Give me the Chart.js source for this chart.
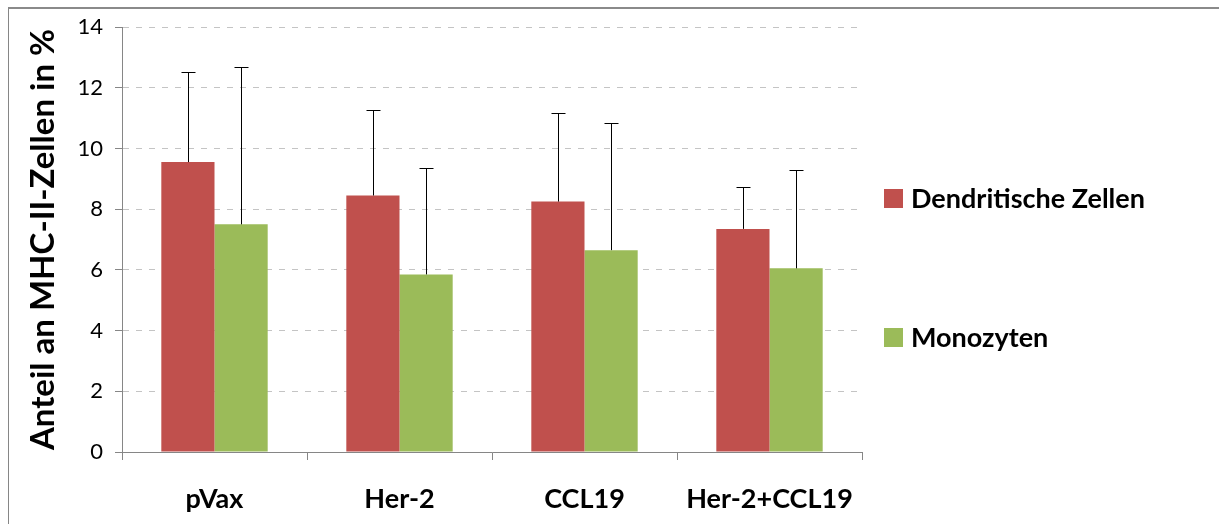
<!DOCTYPE html>
<html lang="de">
<head>
    <meta charset="UTF-8">
    <title>Anteil an MHC-II-Zellen</title>
    <style>
        html, body { margin: 0; padding: 0; background: #fff; overflow: hidden; }
        #frame {
            position: absolute; left: 8px; top: 7px;
            width: 2000px; height: 2000px;
            border-left: 1px solid #868686; border-top: 2px solid #8a8a8a;
        }
        canvas { position: absolute; left: 0; top: 0; }
    </style>
</head>
<body>
    <div id="frame"></div>
    <canvas id="chart" width="1219" height="524"></canvas>

    <script src="https://cdn.jsdelivr.net/npm/chart.js"></script>
    <script>
        // data
        const categories = ['pVax', 'Her-2', 'CCL19', 'Her-2+CCL19'];
        const dendritic = [9.55, 8.45, 8.25, 7.35];
        const monocytes = [7.5, 5.85, 6.65, 6.05];
        const dendriticErr = [2.97, 2.8, 2.92, 1.39];
        const monocytesErr = [5.17, 3.5, 4.2, 3.23];
        const yTicks = [0, 2, 4, 6, 8, 10, 12, 14];

        const RED = '#C0504D';
        const GREEN = '#9BBB59';
        const AXIS = '#868686';
        const FONT = 'Lato, "Open Sans", sans-serif';

        // upper error bars with caps
        const errorBars = {
            id: 'errorBars',
            afterDatasetsDraw(chart) {
                const ctx = chart.ctx;
                const yScale = chart.scales.y;
                ctx.save();
                ctx.strokeStyle = '#000';
                ctx.lineWidth = 1;
                chart.data.datasets.forEach((ds, di) => {
                    const meta = chart.getDatasetMeta(di);
                    meta.data.forEach((bar, i) => {
                        const x = Math.round(bar.x) + 0.5;
                        const top = Math.round(yScale.getPixelForValue(ds.data[i] + ds.errors[i])) + 0.5;
                        ctx.beginPath();
                        ctx.moveTo(x, bar.y);
                        ctx.lineTo(x, top);
                        ctx.moveTo(x - 7, top);
                        ctx.lineTo(x + 7, top);
                        ctx.stroke();
                    });
                });
                ctx.restore();
            }
        };

        // legend on the right, spaced like the original
        const sideLegend = {
            id: 'sideLegend',
            afterDraw(chart) {
                const ctx = chart.ctx;
                const rows = [189, 328];
                ctx.save();
                ctx.font = 'bold 27px ' + FONT;
                ctx.textBaseline = 'alphabetic';
                chart.data.datasets.forEach((ds, i) => {
                    ctx.fillStyle = ds.backgroundColor;
                    ctx.fillRect(884, rows[i], 19, 19);
                    ctx.fillStyle = '#000';
                    ctx.fillText(ds.label, 911, rows[i] + 19);
                });
                ctx.restore();
            }
        };

        new Chart(document.getElementById('chart'), {
            type: 'bar',
            data: {
                labels: categories,
                datasets: [
                    { label: 'Dendritische Zellen', data: dendritic, errors: dendriticErr, backgroundColor: RED },
                    { label: 'Monozyten', data: monocytes, errors: monocytesErr, backgroundColor: GREEN }
                ]
            },
            options: {
                responsive: false,
                animation: false,
                events: [],
                layout: { padding: { left: 0, right: 357, top: 27, bottom: 0 } },
                datasets: { bar: { categoryPercentage: 0.575, barPercentage: 1.0 } },
                plugins: { legend: { display: false }, tooltip: { enabled: false } },
                scales: {
                    x: {
                        afterFit(scale) { scale.height = 72; },
                        grid: { offset: true, drawOnChartArea: false, tickLength: 8, tickColor: AXIS },
                        border: { color: AXIS },
                        ticks: { color: '#000', padding: 23, font: { family: FONT, size: 27, weight: 'bold' } }
                    },
                    y: {
                        min: 0,
                        max: 14,
                        afterFit(scale) { scale.width = 122; },
                        afterBuildTicks(scale) { scale.ticks = yTicks.map(v => ({ value: v })); },
                        grid: { color: '#c4c4c4', tickLength: 7, tickColor: AXIS, tickBorderDash: [] },
                        border: { color: AXIS, dash: [6, 7] },
                        ticks: { color: '#000', padding: 12, font: { family: FONT, size: 22 } },
                        title: {
                            display: true,
                            text: 'Anteil an MHC-II-Zellen in %',
                            color: '#000',
                            padding: { top: 24, bottom: 0 },
                            font: { family: FONT, size: 33, weight: 'bold' }
                        }
                    }
                }
            },
            plugins: [errorBars, sideLegend]
        });
    </script>
</body>
</html>
